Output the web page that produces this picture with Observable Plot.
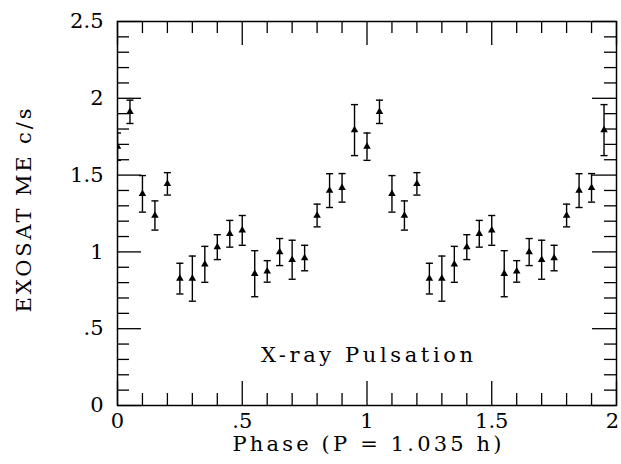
<!DOCTYPE html>
<html><head><meta charset="utf-8">
<script src="https://cdn.jsdelivr.net/npm/d3@7"></script>
<script src="https://cdn.jsdelivr.net/npm/@observablehq/plot@0.6"></script>
<style>body{margin:0;background:#fff} svg text{font-family:"DejaVu Serif","Liberation Serif",serif !important;}</style>
</head><body><div id="chart"></div>
<script>
// One pulse cycle (phase 0–0.95), shown twice (0–2)
const phase = [0, 0.05, 0.10, 0.15, 0.20, 0.25, 0.30, 0.35, 0.40, 0.45,
               0.50, 0.55, 0.60, 0.65, 0.70, 0.75, 0.80, 0.85, 0.90, 0.95];
const rate  = [1.685, 1.912, 1.378, 1.237, 1.443, 0.826, 0.826, 0.919, 1.031, 1.118,
               1.140, 0.858, 0.873, 0.999, 0.949, 0.960, 1.237, 1.399, 1.417, 1.793];
const err   = [0.089, 0.076, 0.119, 0.095, 0.073, 0.100, 0.147, 0.117, 0.081, 0.087,
               0.097, 0.150, 0.070, 0.088, 0.127, 0.083, 0.074, 0.110, 0.093, 0.166];
const cycles = [0, 1];

const xMajor = [0, 0.5, 1, 1.5, 2];
const xMajorLabels = ["0", ".5", "1", "1.5", "2"];
const xMinor = [0.1,0.2,0.3,0.4,0.6,0.7,0.8,0.9,1.1,1.2,1.3,1.4,1.6,1.7,1.8,1.9];
const yMajor = [0, 0.5, 1, 1.5, 2, 2.5];
const yMajorLabels = ["0", ".5", "1", "1.5", "2", "2.5"];
const yMinor = [0.1,0.2,0.3,0.4,0.6,0.7,0.8,0.9,1.1,1.2,1.3,1.4,1.6,1.7,1.8,1.9,2.1,2.2,2.3,2.4];

const xTitle = "Phase (P = 1.035 h)";
const yTitle = "EXOSAT ME c/s";
const note = {text: "X-ray Pulsation", x: 1.0, y: 0.33};

const data = cycles.flatMap(c => phase.map((p, i) => ({
  x: p + c, y: rate[i], lo: rate[i] - err[i], hi: rate[i] + err[i]
})));
const xTickLabels = xMajor.map((v, i) => ({v, label: xMajorLabels[i]}));
const last = xTickLabels.length - 1;

const W = 621, H = 464, mL = 117, mR = 5, mT = 21, mB = 59;
const innerW = W - mL - mR, innerH = H - mT - mB;
const majorLen = 24, minorLen = 12;
const font = {fontSize: 21};

const cap = {draw(ctx, size) { const w = Math.sqrt(size) / 2; ctx.moveTo(-w, 0); ctx.lineTo(w, 0); }};

const chart = Plot.plot({
  width: W, height: H,
  marginLeft: mL, marginRight: mR, marginTop: mT, marginBottom: mB,
  x: {domain: [0, 2], axis: null},
  y: {domain: [0, 2.5], axis: null},
  style: {background: "white", color: "black"},
  marks: [
    Plot.tickX(xMajor, {x: d => d, insetTop: innerH - majorLen, strokeWidth: 1.3}),
    Plot.tickX(xMajor, {x: d => d, insetBottom: innerH - majorLen, strokeWidth: 1.3}),
    Plot.tickX(xMinor, {x: d => d, insetTop: innerH - minorLen, strokeWidth: 1.3}),
    Plot.tickX(xMinor, {x: d => d, insetBottom: innerH - minorLen, strokeWidth: 1.3}),
    Plot.tickY(yMajor, {y: d => d, insetRight: innerW - majorLen, strokeWidth: 1.3}),
    Plot.tickY(yMajor, {y: d => d, insetLeft: innerW - majorLen, strokeWidth: 1.3}),
    Plot.tickY(yMinor, {y: d => d, insetRight: innerW - minorLen, strokeWidth: 1.3}),
    Plot.tickY(yMinor, {y: d => d, insetLeft: innerW - minorLen, strokeWidth: 1.3}),
    Plot.frame({stroke: "black", strokeWidth: 1.5}),
    Plot.text(xTickLabels.slice(0, last), {x: "v", frameAnchor: "bottom", dy: 22, text: "label", ...font}),
    Plot.text(xTickLabels.slice(last), {x: "v", frameAnchor: "bottom", dy: 22, dx: -4, text: "label", ...font}),
    Plot.text(yMajor, {y: d => d, frameAnchor: "left", dx: -14, textAnchor: "end", text: (d, i) => yMajorLabels[i], ...font}),
    Plot.text([xTitle], {frameAnchor: "bottom", dy: 45, text: d => d, ...font}),
    Plot.text([yTitle], {frameAnchor: "left", textAnchor: "middle", dx: -93, dy: -3, rotate: -90, text: d => d, ...font}),
    Plot.text([note], {x: "x", y: "y", text: "text", ...font}),
    Plot.ruleX(data, {x: "x", y1: "lo", y2: "hi", stroke: "black", strokeWidth: 1.4, clip: true}),
    Plot.dot(data, {x: "x", y: "lo", symbol: cap, r: 4, stroke: "black", strokeWidth: 1.4, clip: true}),
    Plot.dot(data, {x: "x", y: "hi", symbol: cap, r: 4, stroke: "black", strokeWidth: 1.4, clip: true}),
    Plot.dot(data, {x: "x", y: "y", symbol: "triangle", r: 2.8, fill: "black", stroke: "none", clip: true})
  ]
});
document.getElementById("chart").appendChild(chart);
// stretch the wide-set titles to the reference's text widths
const widths = {[xTitle]: 269, [yTitle]: 204, [note.text]: 212};
d3.select(chart).selectAll("text").each(function() {
  const w = widths[this.textContent];
  if (w) d3.select(this).attr("textLength", w).attr("lengthAdjust", "spacing");
});
</script>
</body></html>
